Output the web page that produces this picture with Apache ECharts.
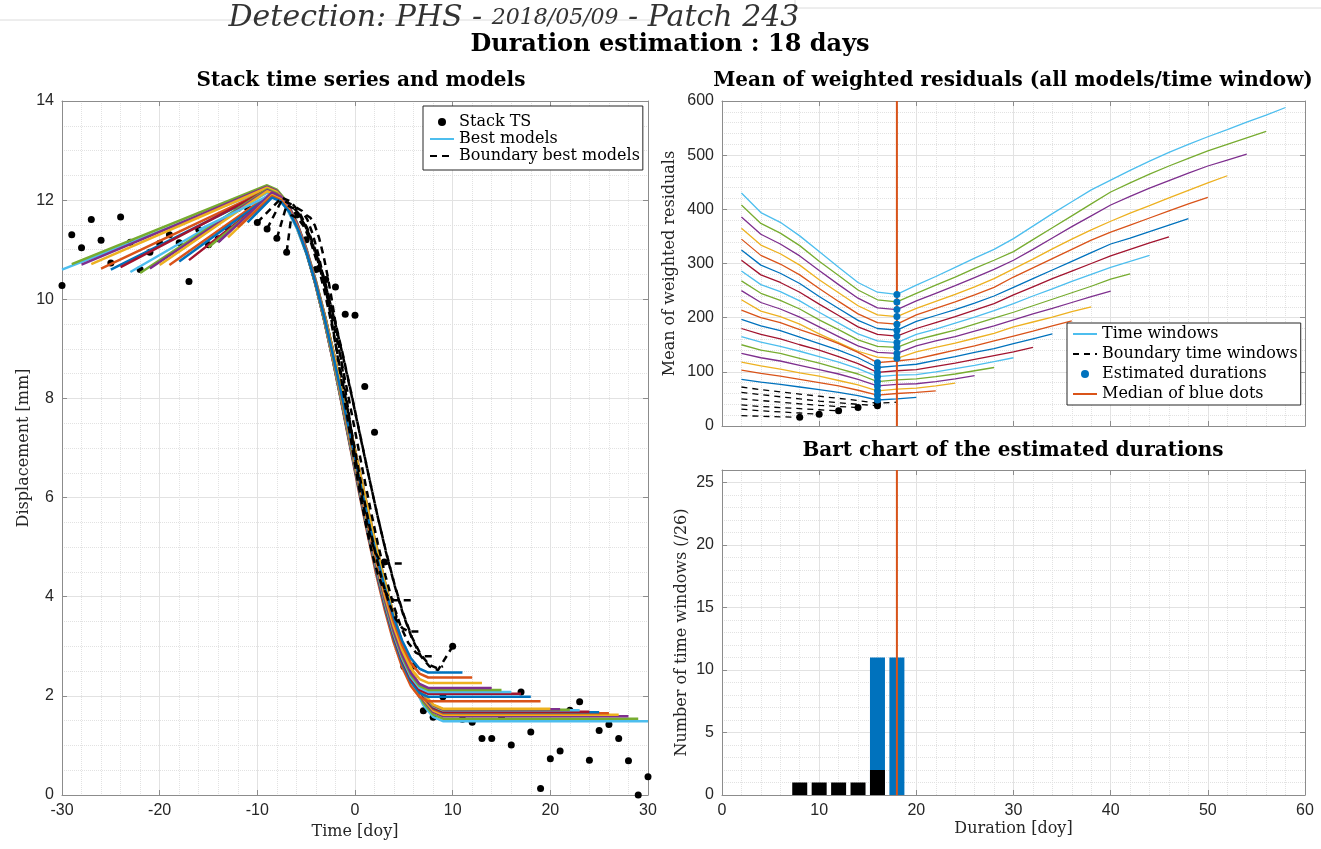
<!DOCTYPE html>
<html><head><meta charset="utf-8">
<script src="https://cdn.jsdelivr.net/npm/echarts@6/dist/echarts.min.js"></script>
<style>html,body{margin:0;padding:0;background:#fff}#c{width:1321px;height:849px}</style>
</head><body><div id="c"></div><script>
// ---------- DATA ----------
const tsDays = [-30,-29,-28,-27,-26,-25,-24,-23,-22,-21,-20,-19,-18,-17,-16,-15,-14,-13,-12,-11,-10,-9,-8,-7,-6,-5,-4,-3,-2,-1,0,1,2,3,4,5,6,7,8,9,10,11,12,13,14,15,16,17,18,19,20,21,22,23,24,25,26,27,28,29,30];
const tsDisp = [10.28,11.30,11.04,11.61,11.19,10.73,11.66,11.15,10.60,10.95,
  11.13,11.30,11.14,10.36,11.41,11.10,11.22,11.45,11.83,11.84,
  11.55,11.42,11.23,10.95,11.70,11.20,10.60,10.40,10.25,9.70,
  9.68,8.24,7.32,4.70,3.60,2.59,2.60,1.70,1.57,1.98,
  3.00,1.53,1.47,1.14,1.14,1.55,1.01,2.08,1.27,0.13,
  0.73,0.89,1.71,1.88,0.70,1.30,1.42,1.14,0.69,0.00,0.37];

// best models (time window k: [start, end])
const modelStart   = [-30,-29,-28,-27,-26,-25,-24,-23,-22,-21,-20,-19,-18,-17,-16,-15,-14,-13,-12,-11];
const modelEnd     = [30,29,28,27,26,25,24,23,22,21,20,19,18,17,16,15,14,13,12,11];
const modelStartY  = [10.60,10.71,10.70,10.71,10.62,10.60,10.65,10.55,10.53,10.62,10.69,10.69,10.76,10.79,11.40,11.05,11.15,11.25,11.45,11.55];
const modelPeakT   = [-9,-9,-9,-9,-9,-9,-9,-9,-9,-9,-9,-8.5,-8.5,-8.5,-8.5,-8.5,-8.5,-8.5,-8.5,-8.5];
const modelPeakY   = [12.22,12.30,12.27,12.25,12.20,12.17,12.20,12.15,12.22,12.20,12.18,12.15,12.12,12.10,12.12,12.10,12.15,12.10,12.08,12.05];
const modelDur     = [18,18,18,18,18,18,18,18,18,18,18,16,16,16,16,16,16,16,16,16];
const modelPlateau = [1.49,1.54,1.59,1.62,1.65,1.67,1.68,1.71,1.72,1.73,1.74,1.89,1.98,2.04,2.08,2.12,2.16,2.26,2.37,2.47];

// boundary best models
const boundStart   = [-10,-9,-8,-7,-6,-5];
const boundEnd     = [10,9,8,7,6,5];
const boundStartY  = [11.55,11.42,11.23,10.95,11.85,11.70];
const boundPeakT   = [-7.5,-7.5,-7,-6.5,-6,-5];
const boundPeakY   = [12.05,12.00,11.90,11.70,11.85,11.70];
const boundDur     = [16,16,14,12,10,8];
const boundPlateau = [2.52,2.55,2.80,3.30,3.93,4.67];
const boundEndY    = [3.00,2.60,2.80,3.30,3.93,4.67];

// normalised shape of the displacement drop
const dropShape = [0,0.008,0.030,0.067,0.117,0.179,0.250,0.329,0.413,0.500,0.587,0.671,0.750,0.821,0.883,0.933,0.970,0.992,1];

// mean of weighted residuals per time window (window i ends at 20+2i days)
const durGrid = [2,4,6,8,10,12,14,16,18,20,22,24,26,28,30,32,34,36,38,40,42,44,46,48,50,52,54,56,58];
const windowResiduals = [
  [86,81,77,72,67,62,56,48,50,53],
  [103,97,92,86,80,74,66,57,60,62,65],
  [118,111,105,98,92,84,76,65,68,70,74,79],
  [134,126,120,112,104,96,86,74,77,78,82,87,93],
  [150,140,134,125,116,106,96,82,85,87,91,96,102,108],
  [165,155,147,138,128,118,106,91,94,95,100,106,112,119,126],
  [180,169,161,150,140,128,115,99,102,104,110,116,123,130,137,145],
  [197,185,176,164,152,140,126,108,111,114,121,128,136,143,152,161,170],
  [214,200,191,178,166,152,136,117,120,124,132,140,148,157,166,175,185,194],
  [233,212,202,188,170,154,138,127,125,137,145,153,162,171,183,192,201,211,220],
  [250,228,216,201,183,165,148,136,134,148,157,165,175,185,196,207,217,228,239,249],
  [268,245,232,216,196,178,159,147,145,159,168,177,188,199,210,222,234,246,258,271,281],
  [286,261,248,231,210,190,170,157,154,169,179,190,201,213,226,240,253,267,280,293,304,315],
  [306,279,265,247,225,204,183,169,166,180,191,202,214,226,242,257,272,286,300,314,326,338,349],
  [325,297,282,263,239,217,195,180,177,193,204,215,227,240,256,272,288,304,320,336,347,359,371,383],
  [345,315,299,279,254,230,207,191,188,205,217,229,242,256,275,292,309,326,343,358,371,384,397,410,422],
  [365,334,318,297,270,246,222,205,202,217,230,243,257,272,290,308,327,345,362,378,393,407,421,435,449,462],
  [386,354,336,314,287,261,236,218,215,231,245,259,274,289,306,326,347,368,388,408,424,439,453,467,480,491,502],
  [408,374,356,333,304,278,251,233,229,245,260,275,291,306,322,344,366,388,410,432,449,465,480,494,508,520,532,544],
  [430,394,376,351,322,293,265,247,243,260,276,293,310,326,346,369,392,414,436,454,472,489,505,520,534,547,561,574,588]
];
const boundaryResiduals = [
  [72,67,63,59,55,51,47,42,44],
  [62,58,54,50,46,43,40,37.5],
  [50,47,44,41,38,36,34],
  [39,36,34,32,30,28],
  [31,28,26,24,21.5],
  [19,18,17,16]
];
const estDurations   = [16,16,16,16,16,16,16,16,16,18,18,18,18,18,18,18,18,18,18,18];
const boundDurations = [16,16,14,12,10,8];
const medianDuration = 18;

// bar chart
const barDurations    = [8,10,12,14,16,18];
const boundaryCounts  = [1,1,1,1,2,0];
const estimatedCounts = [0,0,0,0,9,11];

// ---------- STYLE ----------
const COLORS = ['#0072BD','#D95319','#EDB120','#7E2F8E','#77AC30','#4DBEEE','#A2142F'];
const AX = '#8c8c8c', TXT = '#262626';
const SERIF = "'DejaVu Serif', serif";
const labelStyle = {fontFamily:"'Liberation Sans', Arial, sans-serif", fontSize:16, color:TXT};
const nameStyle = {fontFamily:SERIF, fontSize:16, color:TXT};

function mainAxis(o) {
  return Object.assign({
    type:'value',
    axisLine:{show:true, onZero:false, lineStyle:{color:AX, width:1}},
    axisTick:{show:true, inside:true, length:5, lineStyle:{color:AX}},
    axisLabel:Object.assign({margin:8}, labelStyle),
    splitLine:{show:true, lineStyle:{color:'#e2e2e2', width:1}},
    minorTick:{show:false, splitNumber:5},
    minorSplitLine:{show:true, lineStyle:{color:'#e2e2e2', width:1, type:'dotted'}},
    nameTextStyle:nameStyle, nameLocation:'middle'
  }, o);
}
function boxAxis(o) {
  return Object.assign({
    type:'value',
    axisLine:{show:true, onZero:false, lineStyle:{color:AX, width:1}},
    axisTick:{show:true, inside:true, length:5, lineStyle:{color:AX}},
    axisLabel:{show:false}, splitLine:{show:false}
  }, o);
}

function modelPoints(start, startY, peakT, peakY, dur, plat, end, endY) {
  const pts = [];
  if (peakT > start) pts.push([start, startY]);
  pts.push([peakT, peakY]);
  const n = dropShape.length - 1;
  for (let j = 1; j <= n; j++) pts.push([peakT + j * dur / n, peakY - (peakY - plat) * dropShape[j]]);
  pts.push([end, endY]);
  return pts;
}

const series = [];
series.push({type:'scatter', name:'Stack TS', xAxisIndex:0, yAxisIndex:0,
  data: tsDays.map((d,i)=>[d, tsDisp[i]]), symbolSize:7, itemStyle:{color:'#000', opacity:1}, z:2});
for (let k = 0; k < modelStart.length; k++) {
  const c = COLORS[(19 - k) % 7];
  series.push({type:'line', name:'Best models', xAxisIndex:0, yAxisIndex:0, symbol:'none',
    data: modelPoints(modelStart[k], modelStartY[k], modelPeakT[k], modelPeakY[k], modelDur[k], modelPlateau[k], modelEnd[k], modelPlateau[k]),
    lineStyle:{color:c, width:2.5}, itemStyle:{color:c}, z:3});
}
for (let b = 0; b < boundStart.length; b++) {
  series.push({type:'line', name:'Boundary best models', xAxisIndex:0, yAxisIndex:0, symbol:'none',
    data: modelPoints(boundStart[b], boundStartY[b], boundPeakT[b], boundPeakY[b], boundDur[b], boundPlateau[b], boundEnd[b], boundEndY[b]),
    lineStyle:{color:'#000', width:2.5, type:[7,5]}, itemStyle:{color:'#000'}, z:4});
}
for (let i = windowResiduals.length - 1; i >= 0; i--) {
  const c = COLORS[i % 7];
  series.push({type:'line', name:'Time windows', xAxisIndex:2, yAxisIndex:2, symbol:'none',
    data: windowResiduals[i].map((v,j)=>[durGrid[j], v]),
    lineStyle:{color:c, width:1.3}, itemStyle:{color:c}, z:3});
}
for (let b = 0; b < boundaryResiduals.length; b++) {
  series.push({type:'line', name:'Boundary time windows', xAxisIndex:2, yAxisIndex:2, symbol:'none',
    data: boundaryResiduals[b].map((v,j)=>[durGrid[j], v]),
    lineStyle:{color:'#000', width:1.3, type:[6,5]}, itemStyle:{color:'#000'}, z:3});
}
series.push({type:'line', name:'Median of blue dots', xAxisIndex:2, yAxisIndex:2, symbol:'none',
  data:[[medianDuration,0],[medianDuration,600]], lineStyle:{color:'#D95319', width:2}, itemStyle:{color:'#D95319'}, z:4});
series.push({type:'scatter', name:'Boundary minima', xAxisIndex:2, yAxisIndex:2,
  data: boundDurations.map((d,b)=>[d, boundaryResiduals[b][d/2-1]]), symbolSize:7, itemStyle:{color:'#000', opacity:1}, z:5});
series.push({type:'scatter', name:'Estimated durations', xAxisIndex:2, yAxisIndex:2,
  data: estDurations.map((d,i)=>[d, windowResiduals[i][d/2-1]]), symbolSize:7, itemStyle:{color:'#0072BD', opacity:1}, z:6});

series.push({type:'bar', name:'Estimated bars', xAxisIndex:4, yAxisIndex:4, barWidth:15, barGap:'-100%',
  data: barDurations.map((d,j)=>[d, boundaryCounts[j]+estimatedCounts[j]]).filter((p,j)=>estimatedCounts[j]>0),
  itemStyle:{color:'#0072BD'}, z:2});
series.push({type:'bar', name:'Boundary bars', xAxisIndex:4, yAxisIndex:4, barWidth:15, barGap:'-100%',
  data: barDurations.map((d,j)=>[d, boundaryCounts[j]]).filter((p,j)=>boundaryCounts[j]>0),
  itemStyle:{color:'#000'}, z:3});
series.push({type:'line', name:'Median bar', xAxisIndex:4, yAxisIndex:4, symbol:'none',
  data:[[medianDuration,0],[medianDuration,26]], lineStyle:{color:'#D95319', width:2}, z:4});

const titleBold = {fontFamily:SERIF, fontWeight:'bold', fontSize:20, color:'#000'};
const noSym = {color:'rgba(0,0,0,0)', borderWidth:0, borderColor:'rgba(0,0,0,0)'};
const legendCommon = {orient:'vertical', itemWidth:24, itemHeight:8,
  textStyle:{fontFamily:SERIF, fontSize:16, color:'#000'}, borderColor:'#262626', borderWidth:1,
  backgroundColor:'#fff', borderRadius:0, selectedMode:false};

const option = {
  animation:false, backgroundColor:'#fff',
  title:[
    {text:'{a|Detection: PHS - }{b|2018/05/09}{a| - Patch 243}', left:514, top:3, textAlign:'center', padding:0,
     textStyle:{fontWeight:'normal', rich:{a:{fontFamily:SERIF, fontStyle:'italic', fontWeight:'normal', fontSize:30, color:'#333'},
                      b:{fontFamily:SERIF, fontStyle:'italic', fontWeight:'normal', fontSize:22, color:'#333'}}}},
    {text:'Duration estimation : 18 days', left:670, top:33, textAlign:'center', padding:0,
     textStyle:{fontFamily:SERIF, fontWeight:'bold', fontSize:24, color:'#000'}},
    {text:'Stack time series and models', left:361, top:71, textAlign:'center', padding:0, textStyle:titleBold},
    {text:'Mean of weighted residuals (all models/time window)', left:1013, top:71, textAlign:'center', padding:0, textStyle:titleBold},
    {text:'Bart chart of the estimated durations', left:1013, top:441, textAlign:'center', padding:0, textStyle:titleBold}
  ],
  legend:[
    Object.assign({data:['Stack TS', {name:'Best models', itemStyle:noSym}, {name:'Boundary best models', itemStyle:noSym}],
      left:423, top:106, padding:[8,3,6,6], itemGap:1}, legendCommon),
    Object.assign({data:[{name:'Time windows', itemStyle:noSym}, {name:'Boundary time windows', itemStyle:noSym}, 'Estimated durations', {name:'Median of blue dots', itemStyle:noSym}],
      left:1067, top:323, padding:[3,3,3,5], itemGap:4}, legendCommon)
  ],
  grid:[
    {left:62, top:101, width:586, height:694, outerBoundsMode:'none'},
    {left:722, top:101, width:583, height:325, outerBoundsMode:'none'},
    {left:722, top:470, width:583, height:325, outerBoundsMode:'none'}
  ],
  xAxis:[
    mainAxis({gridIndex:0, min:-30, max:30, interval:10, name:'Time [doy]', nameGap:26}),
    boxAxis({gridIndex:0, position:'top', min:-30, max:30, interval:10}),
    mainAxis({gridIndex:1, min:0, max:60, interval:10, axisLabel:{show:false}}),
    boxAxis({gridIndex:1, position:'top', min:0, max:60, interval:10}),
    mainAxis({gridIndex:2, min:0, max:60, interval:10, name:'Duration [doy]', nameGap:26}),
    boxAxis({gridIndex:2, position:'top', min:0, max:60, interval:10})
  ],
  yAxis:[
    mainAxis({gridIndex:0, min:0, max:14, interval:2, name:'Displacement [mm]', nameGap:30, minorTick:{show:false, splitNumber:4}}),
    boxAxis({gridIndex:0, position:'right', min:0, max:14, interval:2}),
    mainAxis({gridIndex:1, min:0, max:600, interval:100, name:'Mean of weighted residuals', nameGap:44}),
    boxAxis({gridIndex:1, position:'right', min:0, max:600, interval:100}),
    mainAxis({gridIndex:2, min:0, max:26, interval:5, name:'Number of time windows (/26)', nameGap:32,
      axisLabel:Object.assign({margin:8, showMaxLabel:false}, labelStyle)}),
    boxAxis({gridIndex:2, position:'right', min:0, max:26, interval:5})
  ],
  graphic:[
    {type:'line', shape:{x1:0, y1:20, x2:650, y2:20}, style:{stroke:'#dcdcdc', lineWidth:1}, silent:true, z:-1},
    {type:'line', shape:{x1:795, y1:0, x2:795, y2:18}, style:{stroke:'#dcdcdc', lineWidth:1}, silent:true, z:-1},
    {type:'line', shape:{x1:795, y1:8, x2:1321, y2:8}, style:{stroke:'#dcdcdc', lineWidth:1}, silent:true, z:-1}
  ],
  series: series
};
const chart = echarts.init(document.getElementById('c'), null, {renderer:'canvas', width:1321, height:849});
chart.setOption(option);
</script></body></html>
